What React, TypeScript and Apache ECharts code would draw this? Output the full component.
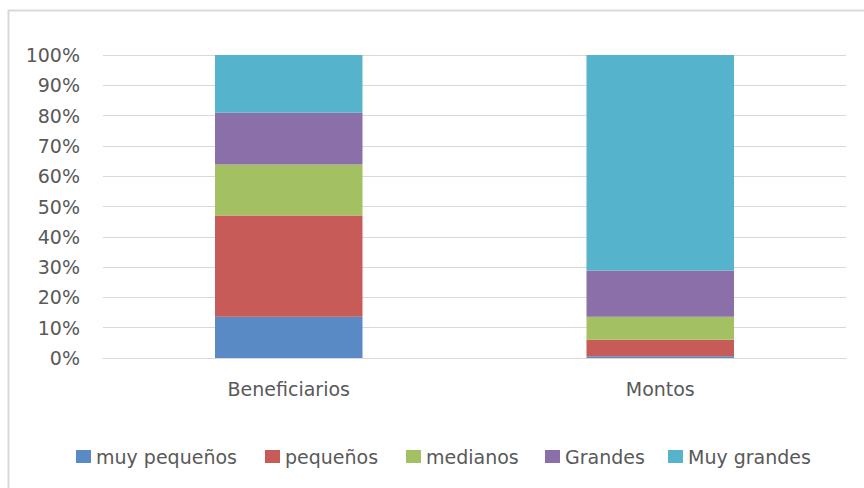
import React, { useEffect, useRef } from "react";
import * as echarts from "echarts";

const categories = ["Beneficiarios", "Montos"];
const seriesNames = ["muy pequeños", "pequeños", "medianos", "Grandes", "Muy grandes"];
const muyPequenos = [13.6, 0.6];
const pequenos = [33.4, 5.4];
const medianos = [16.9, 7.6];
const grandes = [17.0, 15.3];
const muyGrandes = [19.1, 71.1];
const colors = ["#5a8ac6", "#c75b57", "#a3c062", "#8b6fa9", "#55b3cc"];
const legendLeft = [76, 265, 406, 545, 668];

export default function App() {
  const ref = useRef<HTMLDivElement>(null);
  useEffect(() => {
    const chart = echarts.init(ref.current!, null, { renderer: "svg" });
    const values = [muyPequenos, pequenos, medianos, grandes, muyGrandes];
    const font = "DejaVu Sans";
    chart.setOption({
      animation: false,
      backgroundColor: "#ffffff",
      textStyle: { fontFamily: font },
      graphic: [
        {
          type: "rect",
          shape: { x: 8.5, y: 10.5, width: 900, height: 600 },
          style: { fill: "none", stroke: "#d9d9d9", lineWidth: 2 },
          silent: true,
        },
      ],
      grid: { left: 103, right: 18, top: 55, bottom: 130 },
      xAxis: {
        type: "category",
        data: categories,
        axisLine: { show: true, lineStyle: { color: "#d9d9d9", width: 1 } },
        axisTick: { show: false },
        axisLabel: { color: "#595959", fontSize: 19, fontFamily: font, margin: 21 },
      },
      yAxis: {
        type: "value",
        min: 0,
        max: 100,
        interval: 10,
        axisLine: { show: false },
        axisTick: { show: false },
        splitLine: { lineStyle: { color: "#d9d9d9", width: 1 } },
        axisLabel: {
          color: "#595959",
          fontSize: 19,
          fontFamily: font,
          margin: 23,
          formatter: "{value}%",
        },
      },
      legend: seriesNames.map((n, i) => ({
        data: [n],
        left: legendLeft[i],
        top: 447,
        itemWidth: 15,
        itemHeight: 13,
        itemGap: 0,
        icon: "rect",
        textStyle: { color: "#595959", fontSize: 19, fontFamily: font },
        padding: 0,
      })),
      series: seriesNames.map((n, i) => ({
        name: n,
        type: "bar",
        stack: "total",
        barWidth: "39.7%",
        data: values[i],
        itemStyle: { color: colors[i] },
      })),
    });
    return () => chart.dispose();
  }, []);
  return (
    <div
      ref={ref}
      style={{ position: "absolute", left: 0, top: 0, width: 864, height: 488 }}
    />
  );
}
